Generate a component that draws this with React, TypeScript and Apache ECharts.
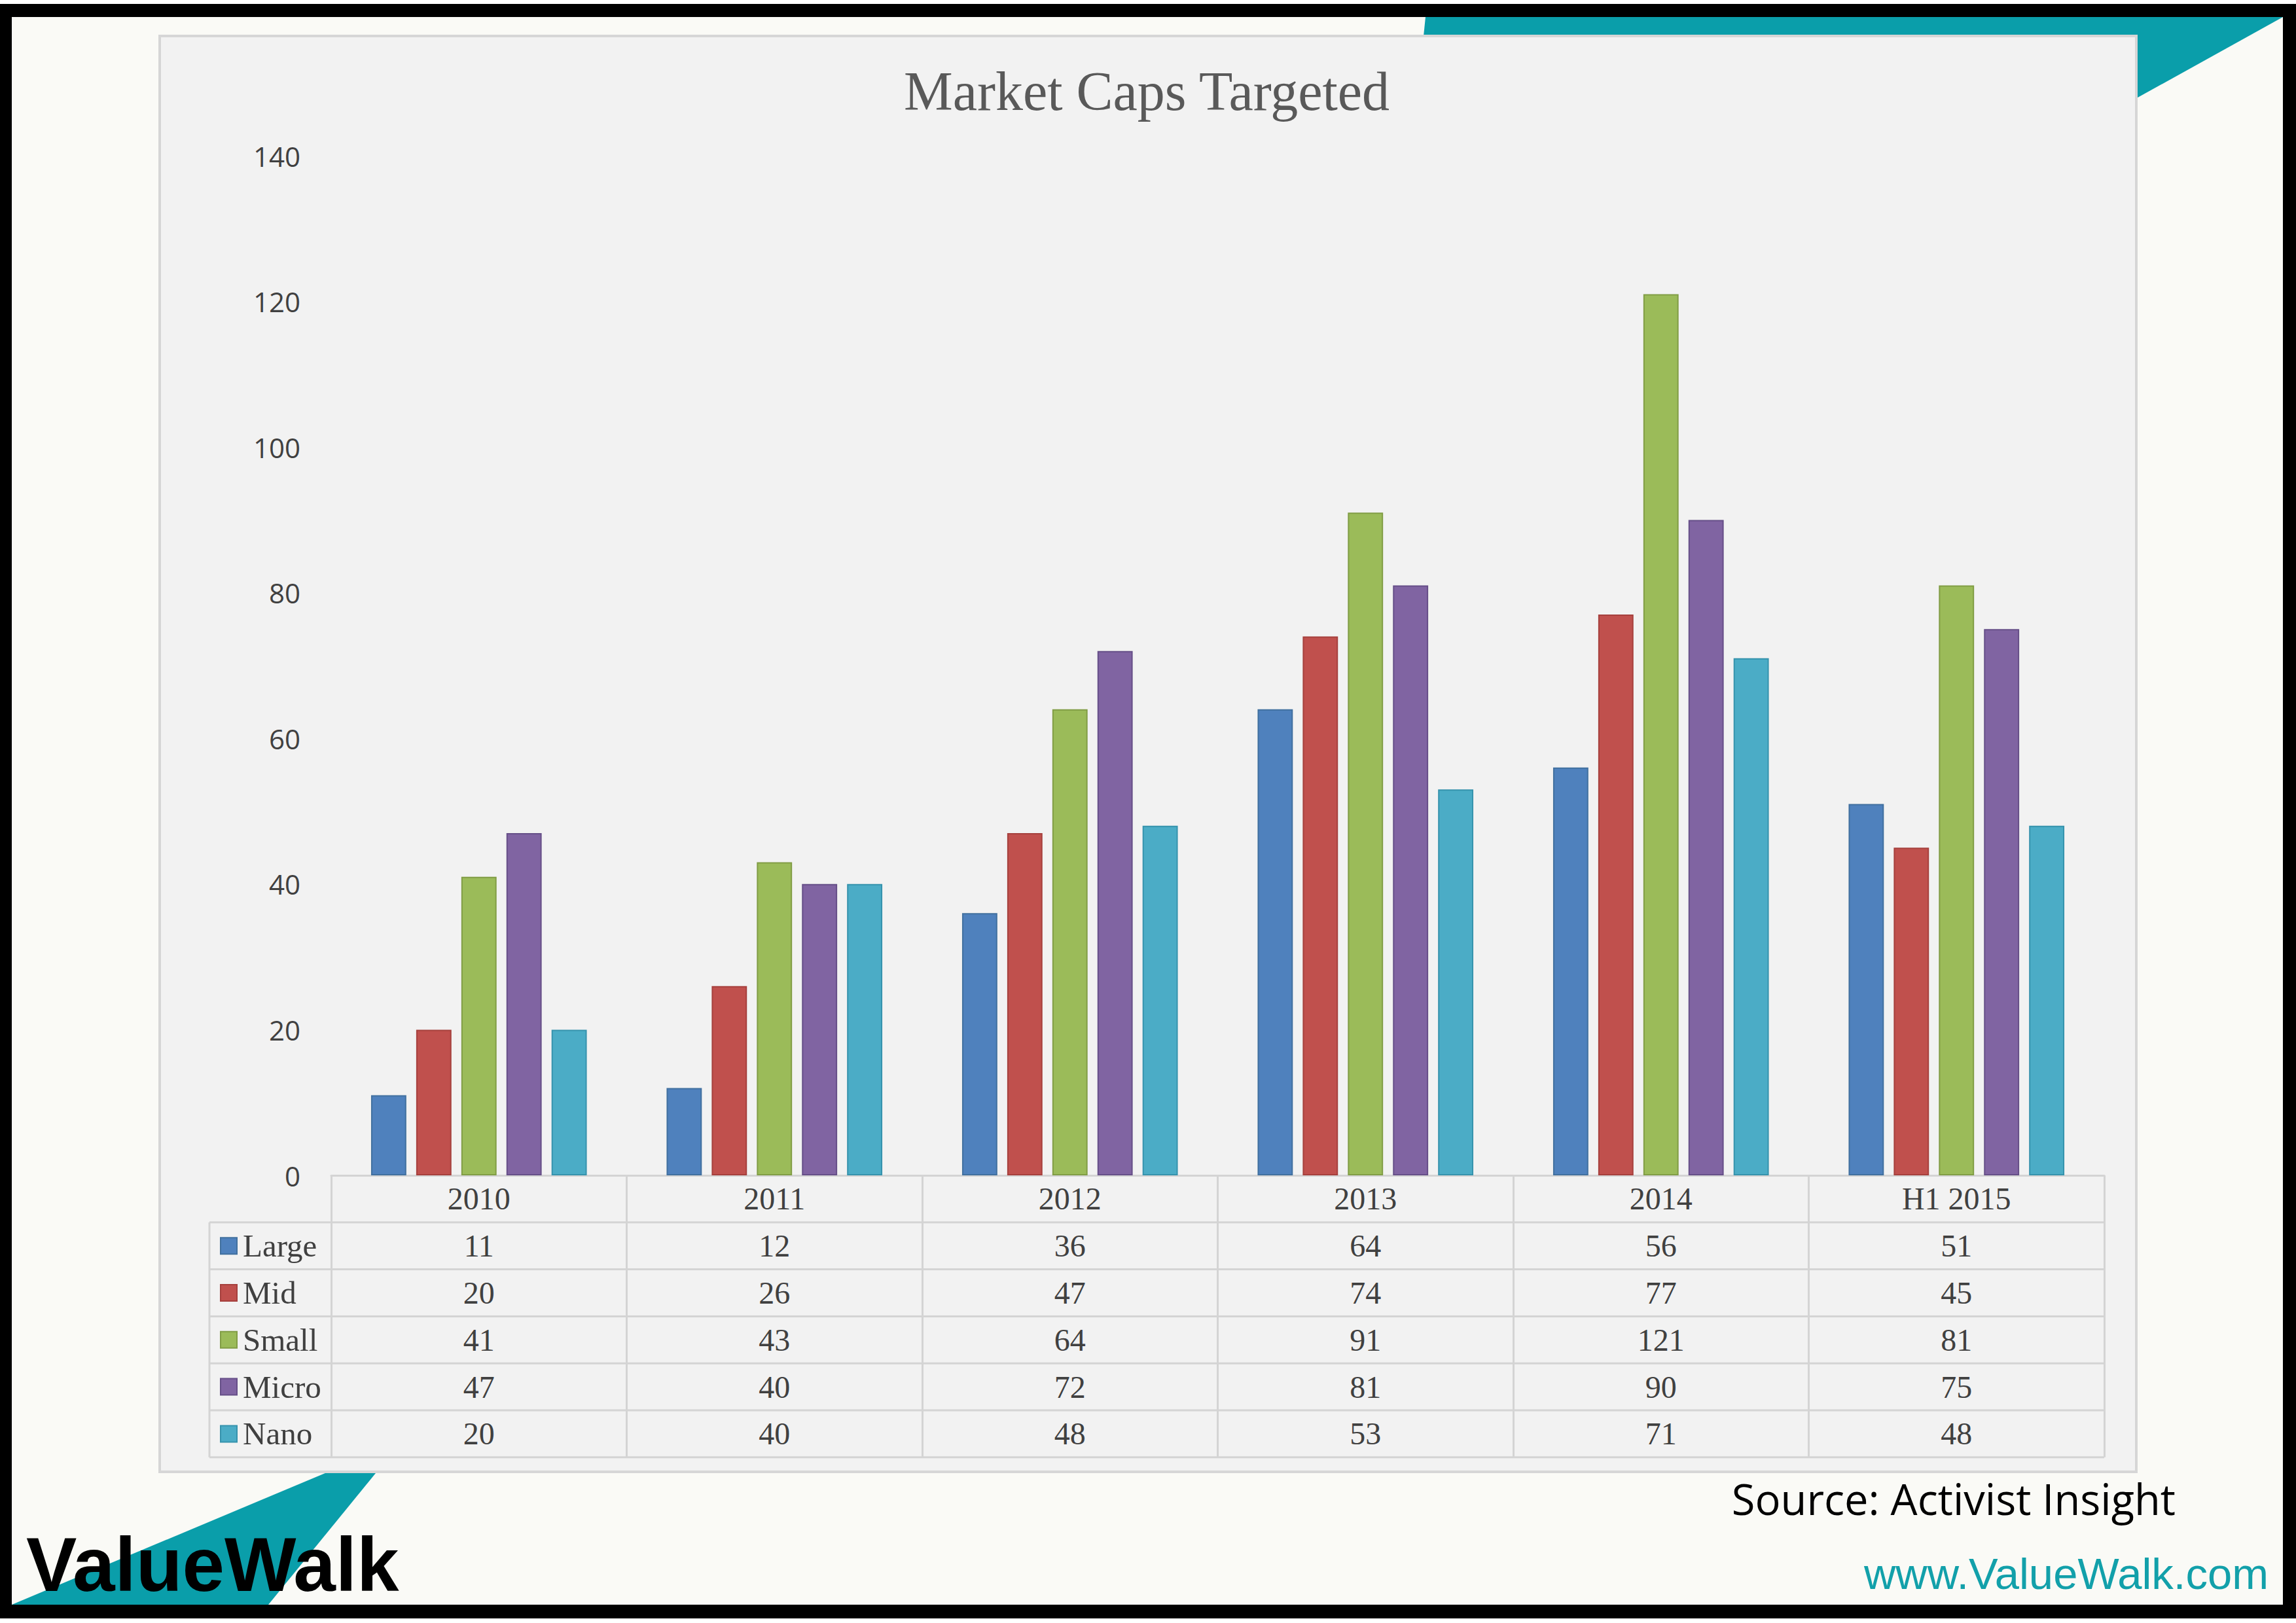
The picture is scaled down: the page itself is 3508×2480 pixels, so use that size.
import React, { useEffect, useRef } from "react";
import * as echarts from "echarts";

const categories = ["2010", "2011", "2012", "2013", "2014", "H1 2015"];
const seriesNames = ["Large", "Mid", "Small", "Micro", "Nano"];
const largeValues = [11, 12, 36, 64, 56, 51];
const midValues = [20, 26, 47, 74, 77, 45];
const smallValues = [41, 43, 64, 91, 121, 81];
const microValues = [47, 40, 72, 81, 90, 75];
const nanoValues = [20, 40, 48, 53, 71, 48];
const yMin = 0;
const yMax = 140;
const yInterval = 20;

const seriesValues = [largeValues, midValues, smallValues, microValues, nanoValues];
const colors = ["#4f81bd", "#c0504d", "#9bbb59", "#8064a2", "#4bacc6"];
const borderColors = ["#41709f", "#a6403d", "#819d45", "#664f88", "#3693ad"];

const W = 3508;
const H = 2480;
const gridLeft = 506;
const gridRight = 3215;
const gridTop = 238;
const axisY = 1796;
const rowH = 71.8;
const tableLeft = 320;
const serif = "'Liberation Serif', 'Times New Roman', serif";
const sans = "'Open Sans', 'Noto Sans', sans-serif";
const lineColor = "#d4d4d4";

export default function App() {
  const ref = useRef<HTMLDivElement>(null);
  useEffect(() => {
    document.body.style.margin = "0";
    if (!ref.current) return;
    const chart = echarts.init(ref.current, undefined, { renderer: "svg" });

    const tableBottom = axisY + rowH * 6;
    const graphics: any[] = [
      { type: "rect", z: -20, shape: { x: 0, y: 0, width: W, height: H }, style: { fill: "#ffffff" } },
      { type: "rect", z: -19, shape: { x: 0, y: 6, width: W, height: 2467 }, style: { fill: "#000000" } },
      { type: "rect", z: -18, shape: { x: 18, y: 26, width: 3470, height: 2426 }, style: { fill: "#fafaf6" } },
      {
        type: "polygon", z: -17,
        shape: { points: [[2178, 26], [3488, 26], [2994, 300], [2150, 300]] },
        style: { fill: "#0a9eaa" },
      },
      {
        type: "polygon", z: -17,
        shape: { points: [[523, 2240], [583, 2240], [410, 2452], [18, 2452]] },
        style: { fill: "#0a9eaa" },
      },
      {
        type: "rect", z: -16,
        shape: { x: 244, y: 55, width: 3020, height: 2194 },
        style: { fill: "#f2f2f2", stroke: "#d6d6d6", lineWidth: 4 },
      },
      {
        type: "text", z: 5, x: 1752, y: 139,
        style: { text: "Market Caps Targeted", fontFamily: serif, fontSize: 84, fill: "#595959", align: "center", verticalAlign: "middle" },
      },
      {
        type: "text", z: 5, x: 3324, y: 2290,
        style: { text: "Source: Activist Insight", fontFamily: sans, fontSize: 65, fill: "#000000", align: "right", verticalAlign: "middle" },
      },
      {
        type: "text", z: 5, x: 3466, y: 2404,
        style: { text: "www.ValueWalk.com", fontFamily: "'Liberation Sans', Arial, sans-serif", fontSize: 67, fill: "#12a0aa", align: "right", verticalAlign: "middle" },
      },
      {
        type: "text", z: 5, x: 40, y: 2391,
        style: { text: "ValueWalk", fontFamily: "'Liberation Sans', Arial, sans-serif", fontWeight: "bold", fontSize: 116, fill: "#000000", align: "left", verticalAlign: "middle" },
      },
      {
        type: "line", z: 1,
        shape: { x1: tableLeft, y1: axisY + rowH, x2: tableLeft, y2: tableBottom },
        style: { stroke: lineColor, lineWidth: 3 },
      },
    ];
    for (let k = 1; k <= 6; k++) {
      graphics.push({
        type: "line", z: 1,
        shape: { x1: tableLeft, y1: axisY + rowH * k, x2: gridRight, y2: axisY + rowH * k },
        style: { stroke: lineColor, lineWidth: 3 },
      });
    }

    const labelStyle = {
      fontFamily: serif,
      fontSize: 48,
      color: "#404040",
      margin: rowH / 2,
      verticalAlign: "middle",
      interval: 0,
    };

    const xAxes: any[] = [
      {
        type: "category",
        data: categories,
        gridIndex: 0,
        position: "bottom",
        axisLine: { show: true, lineStyle: { color: lineColor, width: 3 } },
        axisTick: { show: true, interval: 0, length: rowH * 6, lineStyle: { color: lineColor, width: 3 } },
        axisLabel: { ...labelStyle },
      },
    ];
    seriesValues.forEach((vals, r) => {
      xAxes.push({
        type: "category",
        data: categories,
        gridIndex: 0,
        position: "bottom",
        offset: rowH * (r + 1),
        axisLine: { show: false },
        axisTick: { show: false },
        axisLabel: { ...labelStyle, formatter: (_v: string, i: number) => String(vals[i]) },
      });
    });

    const option: any = {
      animation: false,
      backgroundColor: "transparent",
      graphic: { elements: graphics },
      grid: { left: gridLeft, right: W - gridRight, top: gridTop, bottom: H - axisY, containLabel: false },
      legend: {
        orient: "vertical",
        left: 336,
        top: axisY + rowH,
        itemWidth: 25,
        itemHeight: 25,
        itemGap: 0,
        padding: 0,
        icon: "rect",
        selectedMode: false,
        data: seriesNames,
        textStyle: { fontFamily: serif, fontSize: 49, color: "#404040", lineHeight: rowH, padding: [0, 0, 0, 4] },
      },
      xAxis: xAxes,
      yAxis: {
        type: "value",
        min: yMin,
        max: yMax,
        interval: yInterval,
        axisLine: { show: false },
        axisTick: { show: false },
        splitLine: { show: false },
        axisLabel: { fontFamily: sans, fontSize: 42, color: "#404040", margin: 47 },
      },
      series: seriesNames.map((name, i) => ({
        name,
        type: "bar",
        xAxisIndex: 0,
        data: seriesValues[i],
        barCategoryGap: "27%",
        barGap: "28%",
        itemStyle: { color: colors[i], borderColor: borderColors[i], borderWidth: 2 },
      })),
    };
    chart.setOption(option);
    return () => chart.dispose();
  }, []);
  return <div ref={ref} style={{ width: W, height: H }} />;
}
